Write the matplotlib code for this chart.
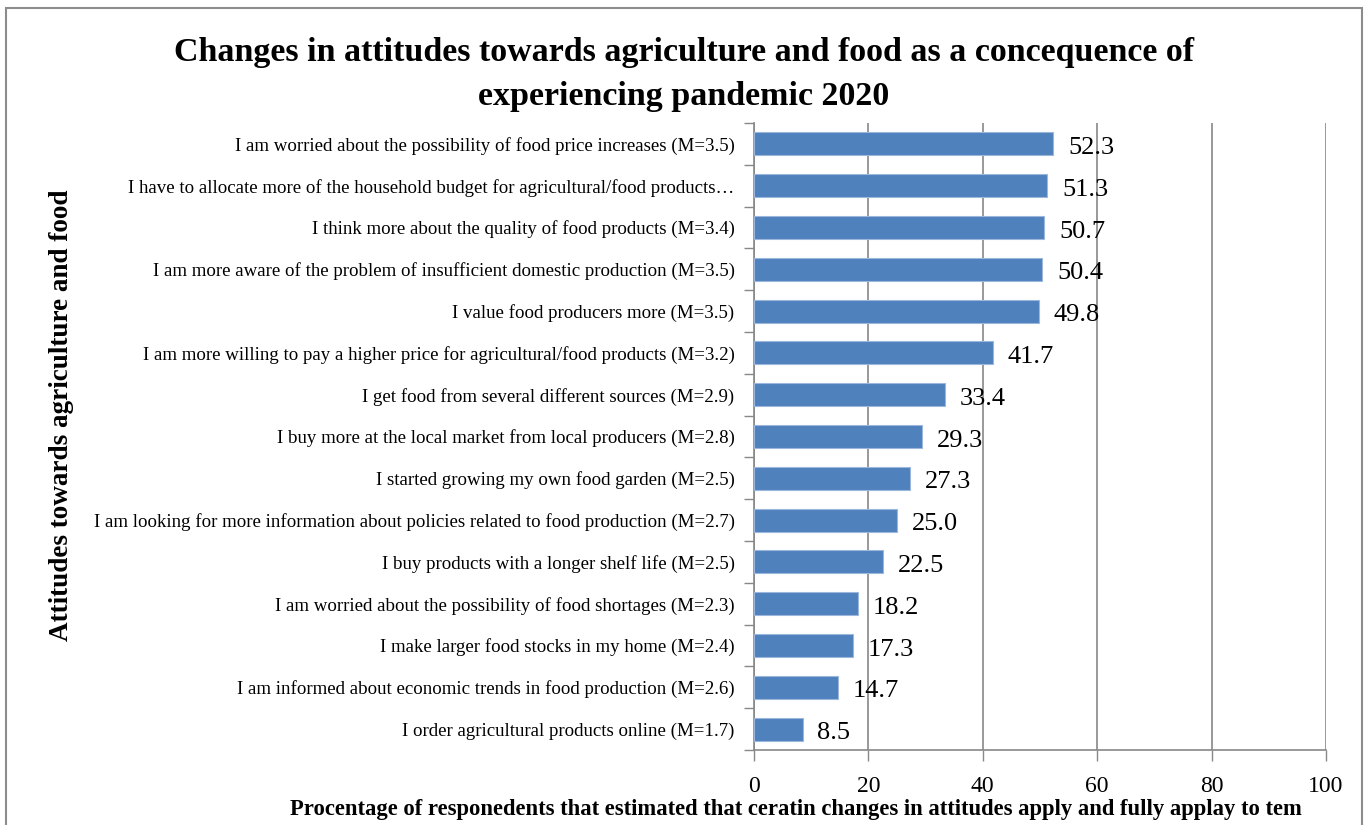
import matplotlib.pyplot as plt
from matplotlib.patches import Rectangle

plt.rcParams['font.family'] = ['Liberation Serif', 'DejaVu Serif']

# statements, top to bottom as they appear on the chart
statements = [
    'I am worried about the possibility of food price increases (M=3.5)',
    'I have to allocate more of the household budget for agricultural/food products\u2026',
    'I think more about the quality of food products (M=3.4)',
    'I am more aware of the problem of insufficient domestic production (M=3.5)',
    'I value food producers more (M=3.5)',
    'I am more willing to pay a higher price for agricultural/food products (M=3.2)',
    'I get food from several different sources (M=2.9)',
    'I buy more at the local market from local producers (M=2.8)',
    'I started growing my own food garden (M=2.5)',
    'I am looking for more information about policies related to food production (M=2.7)',
    'I buy products with a longer shelf life (M=2.5)',
    'I am worried about the possibility of food shortages (M=2.3)',
    'I make larger food stocks in my home (M=2.4)',
    'I am informed about economic trends in food production (M=2.6)',
    'I order agricultural products online (M=1.7)',
]
percent = [52.3, 51.3, 50.7, 50.4, 49.8, 41.7, 33.4, 29.3, 27.3, 25.0,
           22.5, 18.2, 17.3, 14.7, 8.5]
x_ticks = [0, 20, 40, 60, 80, 100]

W, H = 1367, 825
fig = plt.figure(figsize=(W / 100, H / 100), dpi=100)
ax = fig.add_axes([754 / W, 1 - 750 / H, 572 / W, (750 - 123) / H])

n = len(statements)
ypos = list(range(n))
ax.barh(ypos, percent, height=0.55, color='#4F81BD', edgecolor='#9DB7DC',
        linewidth=0.8, zorder=3)
for y, v in zip(ypos, percent):
    ax.text(v + 2.6, y + 0.1, f'{v:.1f}', va='center', ha='left',
            fontsize=19, zorder=4)

ax.set_ylim(n - 0.5, -0.5)
ax.set_xlim(0, 100)
ax.set_xticks(x_ticks)
ax.tick_params(axis='x', labelsize=17, length=8, color='#888888',
               pad=11, width=1)
ax.set_yticks(ypos)
ax.set_yticklabels(statements, fontsize=13.6)
ax.tick_params(axis='y', length=0, pad=14)
# tick marks between categories on the left spine
ax.set_yticks([i - 0.5 for i in range(n + 1)], minor=True)
ax.tick_params(axis='y', which='minor', length=7, color='#888888', width=1)

ax.grid(axis='x', color='#888888', linewidth=1.2, zorder=0)
for s in ['top', 'right']:
    ax.spines[s].set_visible(False)
for s in ['left', 'bottom']:
    ax.spines[s].set_color('#888888')
    ax.spines[s].set_linewidth(1.2)

fig.text(0.5, 1 - 52 / H,
         'Changes in attitudes towards agriculture and food as a concequence of',
         ha='center', va='center', fontsize=24.5, fontweight='bold')
fig.text(0.5, 1 - 97 / H, 'experiencing pandemic 2020',
         ha='center', va='center', fontsize=24.5, fontweight='bold')
fig.text(62 / W, 1 - 415 / H, 'Attitudes towards agriculture and food',
         rotation=90, ha='center', va='center', fontsize=19.5, fontweight='bold')
fig.text(796 / W, 1 - 809 / H,
         'Procentage of responedents that estimated that ceratin changes in '
         'attitudes apply and fully applay to tem',
         ha='center', va='center', fontsize=16.3, fontweight='bold')

# outer chart border
fig.patches.append(Rectangle((6 / W, -0.02), (1362 - 6) / W, 1.02 - 8 / H,
                             transform=fig.transFigure, fill=False,
                             edgecolor='#8c8c8c', linewidth=1.5))

fig.savefig('out.png', dpi=100)
